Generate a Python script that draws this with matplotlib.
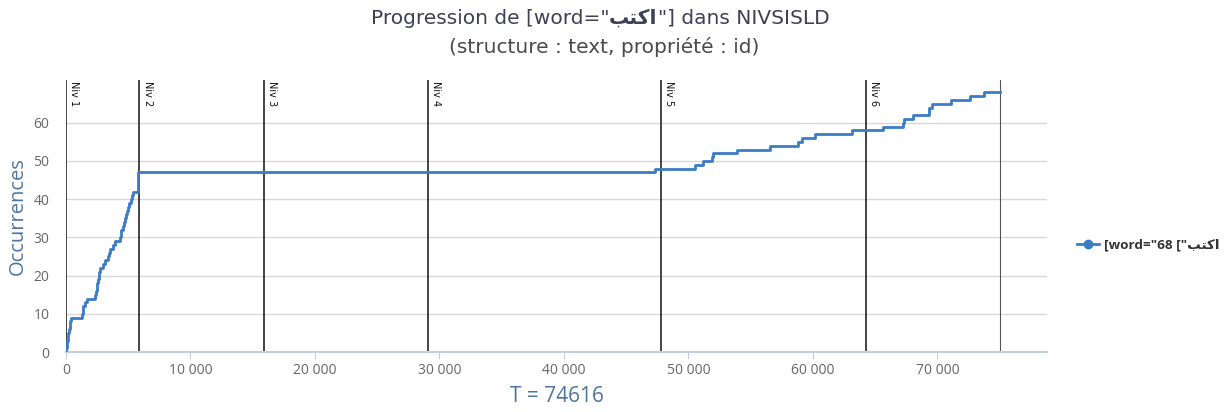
import numpy as np
import matplotlib
matplotlib.use("Agg")
import matplotlib.pyplot as plt
from matplotlib.offsetbox import TextArea, HPacker, AnchoredOffsetbox
from matplotlib.lines import Line2D

plt.rcParams['font.family'] = ['Open Sans', 'DejaVu Sans']

# positions (in words) where the count goes up, and the count reached there
step_x = [0, 20, 60, 100, 150, 190, 240, 290, 340, 400,
          1260, 1330, 1393, 1520, 1660,
          2330, 2400, 2463, 2530, 2597, 2640, 2690, 2730,
          3000, 3130, 3350, 3450, 3530, 3800, 3935,
          4337, 4400, 4450, 4605, 4690, 4740, 4790,
          4880, 4970, 5060, 5200, 5330, 5410,
          5760, 5770, 5780, 5790, 5800,
          47310, 50520, 51190, 51900, 51970, 53870, 56550, 58820,
          59140, 60160, 63110, 65600, 67250, 67310, 68060, 69300,
          69340, 69530, 71060, 72610, 73730, 75000]
step_y = [0, 1, 2, 3, 4, 5, 6, 7, 8, 9,
          10, 11, 12, 13, 14,
          15, 16, 17, 18, 19, 20, 21, 22,
          23, 24, 25, 26, 27, 28, 29,
          30, 31, 32, 33, 34, 35, 36,
          37, 38, 39, 40, 41, 42,
          43, 44, 45, 46, 47,
          48, 49, 50, 51, 52, 53, 54, 55,
          56, 57, 58, 59, 60, 61, 62, 63,
          64, 65, 66, 67, 68, 68]

niv_x = [0, 5900, 15900, 29100, 47800, 64250]
niv_labels = ["Niv 1", "Niv 2", "Niv 3", "Niv 4", "Niv 5", "Niv 6"]
end_x = 75000
total = 74616

# arabic word in presentation forms, visual (left-to-right) order
word_vis = "\ufe90\ufe98\ufedb\ufe8d"

fig = plt.figure(figsize=(12.27, 4.12), dpi=100)
ax = fig.add_axes([66/1227, 1-352/412, (1047-66)/1227, (352-80)/412])

blue = "#3b7cc6"
ax.step(step_x, step_y, where="post", color=blue, lw=2, zorder=3)

for x, lab in zip(niv_x, niv_labels):
    ax.axvline(x, color="#111111", lw=1.1, zorder=2)
    ax.text(x + 250, 71.0, lab, rotation=-90, ha="left", va="top",
            fontsize=7, color="#111111", family="DejaVu Sans")
ax.axvline(end_x, color="#555555", lw=0.8, zorder=2)

ax.set_xlim(0, 78800)
ax.set_ylim(0, 71.2)
ax.set_yticks([0, 10, 20, 30, 40, 50, 60])
ax.set_xticks([0, 10000, 20000, 30000, 40000, 50000, 60000, 70000])
ax.set_xticklabels(["0", "10 000", "20 000", "30 000", "40 000",
                    "50 000", "60 000", "70 000"])
ax.grid(axis="y", color="#d8d8d8", lw=1)
ax.set_axisbelow(True)
for s in ["top", "right", "left"]:
    ax.spines[s].set_visible(False)
ax.spines["bottom"].set_color("#c0d0e0")
ax.spines["bottom"].set_linewidth(1.5)
ax.tick_params(axis="y", length=0, labelsize=10, labelcolor="#666666", pad=12)
ax.tick_params(axis="x", length=5, color="#c0d0e0", labelsize=10,
               labelcolor="#666666", pad=3)

ax.set_ylabel("Occurrences", fontsize=14.5, color="#4d759e", labelpad=4)
ax.set_xlabel("T = " + str(total), fontsize=15, color="#4d759e", labelpad=6)

# title with the arabic word in bold
tcol = "#3f3f55"
tfont = "DejaVu Sans"
tsize = 14.5
parts = [TextArea('Progression de [word="', textprops=dict(fontsize=tsize, color=tcol, family=tfont)),
         TextArea(word_vis, textprops=dict(fontsize=tsize, color=tcol, fontweight="bold", family=tfont)),
         TextArea('"] dans NIVSISLD', textprops=dict(fontsize=tsize, color=tcol, family=tfont))]
box = HPacker(children=parts, pad=0, sep=0, align="baseline")
ab = AnchoredOffsetbox(loc="center", child=box, frameon=False,
                       bbox_to_anchor=(600/1227, 1 - 18/412),
                       bbox_transform=fig.transFigure, pad=0, borderpad=0)
fig.add_artist(ab)
fig.text(604/1227, 1 - 47/412, "(structure : text, propriété : id)",
         ha="center", va="center", fontsize=14.5, color="#4a4a4a", family=tfont)

handle = Line2D([], [], color=blue, lw=2, marker="o", markersize=6)
fig.legend([handle], ['[word="68 ["' + word_vis], loc="center left",
           bbox_to_anchor=(1065/1227, 1 - 245/412), frameon=False,
           prop=dict(weight="bold", size=9.7), handlelength=1.6,
           handletextpad=0.4, labelcolor="#333333")

fig.savefig("out.png", dpi=100)
